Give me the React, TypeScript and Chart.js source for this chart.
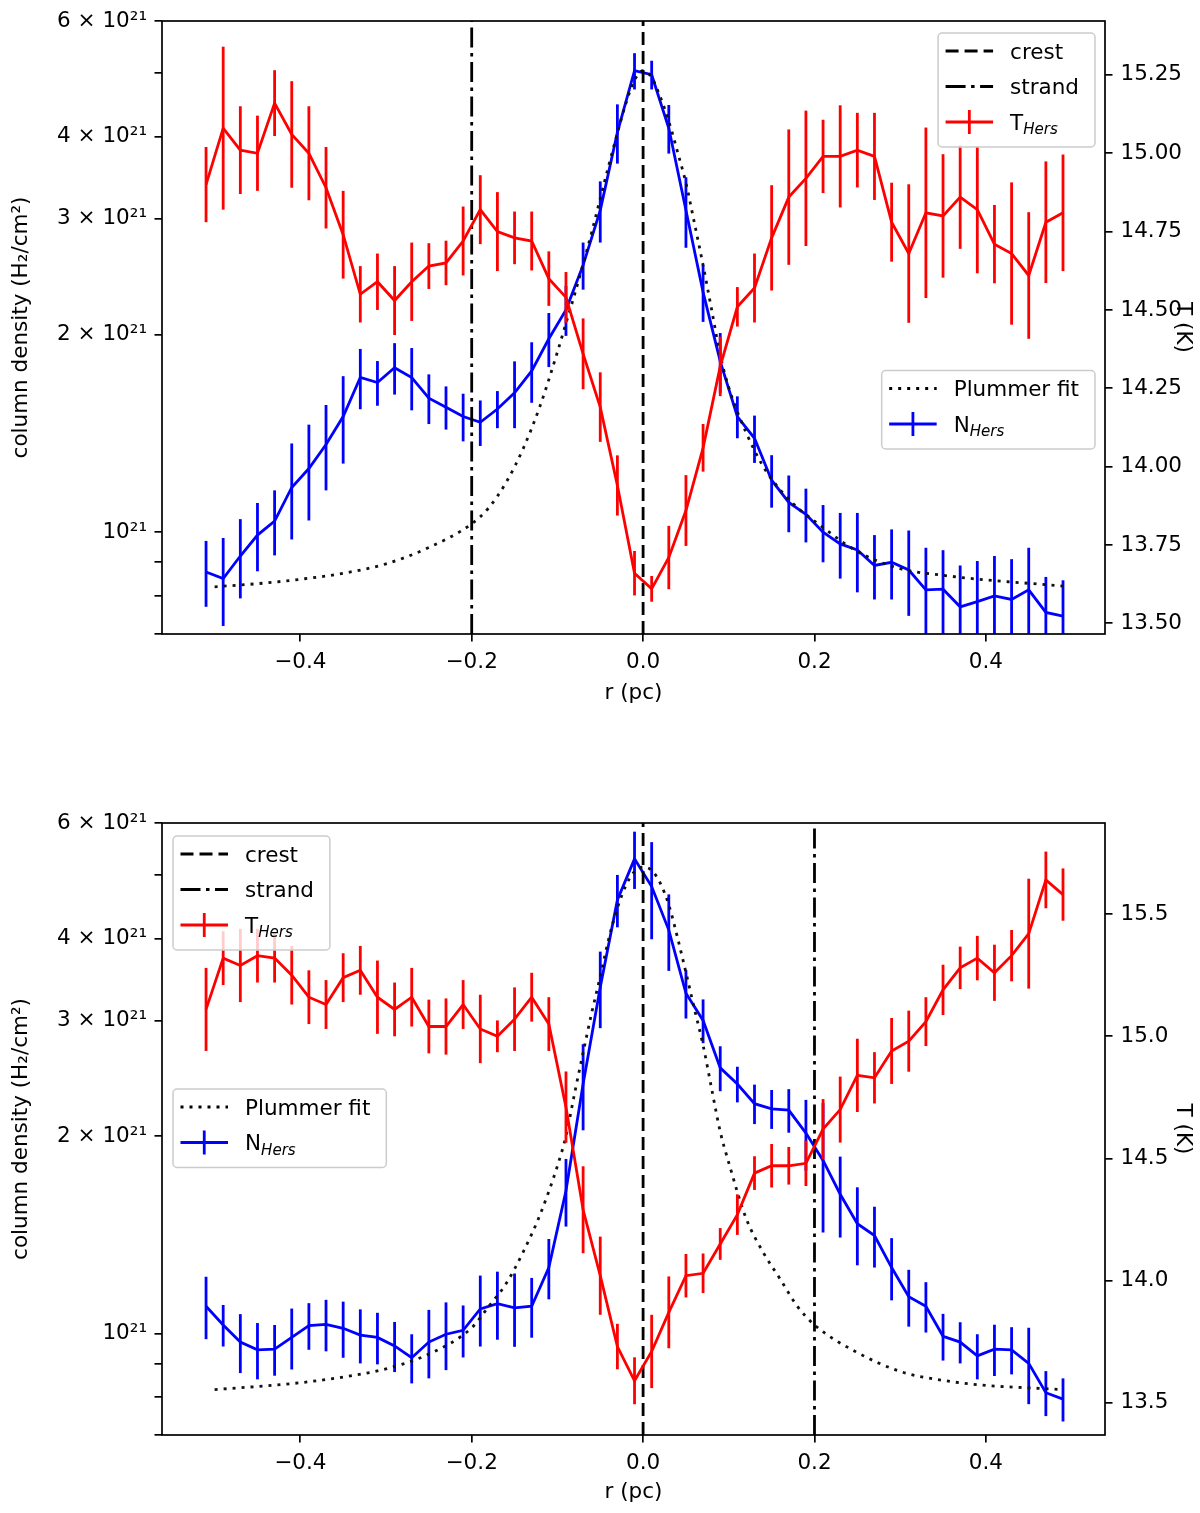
import { useEffect, useRef } from "react";
import { Chart, registerables } from "chart.js";

Chart.register(...registerables);

const FONT_FAMILY = "'DejaVu Sans', 'Liberation Sans', sans-serif";
const FONT_SIZE = 21.5;
const RED = "#ff0000";
const BLUE = "#0000ff";
const LINE_W = 2.8;

// radial offset of every profile sample (pc)
const R = [
  -0.51, -0.49, -0.47, -0.45, -0.43, -0.41, -0.39, -0.37, -0.35, -0.33, -0.31, -0.29, -0.27,
  -0.25, -0.23, -0.21, -0.19, -0.17, -0.15, -0.13, -0.11, -0.09, -0.07, -0.05, -0.03, -0.01,
  0.01, 0.03, 0.05, 0.07, 0.09, 0.11, 0.13, 0.15, 0.17, 0.19, 0.21, 0.23, 0.25, 0.27, 0.29,
  0.31, 0.33, 0.35, 0.37, 0.39, 0.41, 0.43, 0.45, 0.47, 0.49,
];

// ---- upper profile ----
// dust temperature (K)
const T_TOP = [
  14.9, 15.08, 15.01, 15.0, 15.16, 15.06, 15.0, 14.89, 14.74, 14.55, 14.59, 14.53, 14.59,
  14.64, 14.65, 14.72, 14.82, 14.75, 14.73, 14.72, 14.6, 14.54, 14.36, 14.19, 13.94, 13.66,
  13.61, 13.71, 13.86, 14.06, 14.32, 14.51, 14.57, 14.73, 14.86, 14.92, 14.99, 14.99, 15.01,
  14.99, 14.78, 14.68, 14.81, 14.8, 14.86, 14.82, 14.71, 14.68, 14.61, 14.78, 14.81,
];
const T_TOP_ERR = [
  0.12, 0.26, 0.14, 0.12, 0.105, 0.17, 0.15, 0.13, 0.14, 0.09, 0.09, 0.11, 0.125, 0.073,
  0.071, 0.11, 0.11, 0.126, 0.084, 0.094, 0.087, 0.081, 0.113, 0.111, 0.096, 0.071,
  0.041, 0.101, 0.113, 0.076, 0.095, 0.063, 0.11, 0.168, 0.216, 0.216, 0.117, 0.163, 0.119,
  0.139, 0.126, 0.221, 0.272, 0.197, 0.165, 0.203, 0.125, 0.227, 0.202, 0.194, 0.186,
];
// column density, units of 1e21 H2/cm2
const N_TOP = [
  0.87, 0.85, 0.92, 0.99, 1.04, 1.17, 1.25, 1.36, 1.5, 1.72, 1.69, 1.78, 1.72, 1.6, 1.55,
  1.5, 1.47, 1.54, 1.63, 1.76, 1.97, 2.18, 2.55, 3.09, 4.06, 5.04,
  4.97, 4.12, 3.09, 2.32, 1.82, 1.5, 1.39, 1.2, 1.11, 1.065, 1.0, 0.96, 0.94, 0.89, 0.9,
  0.876, 0.817, 0.819, 0.77, 0.784, 0.8, 0.79, 0.817, 0.755, 0.745,
];
const N_TOP_ERR = [
  0.1, 0.13, 0.127, 0.118, 0.118, 0.195, 0.208, 0.202, 0.228, 0.181, 0.132, 0.16, 0.187,
  0.139, 0.117, 0.125, 0.117, 0.1, 0.19, 0.186, 0.186, 0.19, 0.21, 0.33, 0.42, 0.32,
  0.25, 0.35, 0.38, 0.23, 0.19, 0.11, 0.115, 0.11, 0.11, 0.1, 0.1, 0.11, 0.13, 0.1, 0.11,
  0.13, 0.13, 0.12, 0.12, 0.12, 0.12, 0.12, 0.13, 0.1, 0.1,
];
const FIT_R_TOP = [
  -0.5, -0.45, -0.4, -0.35, -0.3, -0.25, -0.2, -0.18, -0.16, -0.14, -0.12, -0.1, -0.09, -0.08,
  -0.07, -0.06, -0.05, -0.04, -0.03, -0.02, -0.01, 0.0, 0.01, 0.02, 0.03, 0.04, 0.05, 0.06,
  0.07, 0.08, 0.09, 0.1, 0.12, 0.14, 0.16, 0.18, 0.2, 0.25, 0.3, 0.35, 0.4, 0.45, 0.49,
];
const FIT_N_TOP = [
  0.826, 0.835, 0.848, 0.866, 0.895, 0.948, 1.03, 1.09, 1.19, 1.34, 1.56, 1.88, 2.08, 2.3,
  2.56, 2.86, 3.22, 3.62, 4.05, 4.5, 4.88, 5.04, 4.92, 4.6, 4.22, 3.8, 3.4, 2.95,
  2.55, 2.18, 1.86, 1.66, 1.42, 1.26, 1.16, 1.09, 1.04, 0.935, 0.88, 0.86, 0.846, 0.836, 0.828,
];

// ---- lower profile ----
const T_BOT = [
  15.11, 15.32, 15.29, 15.33, 15.32, 15.25, 15.16, 15.13, 15.24, 15.27, 15.16, 15.11, 15.16,
  15.04, 15.04, 15.13, 15.03, 15.0, 15.07, 15.16, 15.05, 14.71, 14.29, 14.02, 13.73, 13.59,
  13.71, 13.87, 14.02, 14.03, 14.15, 14.27, 14.44, 14.47, 14.47, 14.48, 14.62, 14.7, 14.84,
  14.83, 14.94, 14.98, 15.06, 15.19, 15.28, 15.32, 15.26, 15.33, 15.42, 15.64, 15.58,
];
const T_BOT_ERR = [
  0.17, 0.11, 0.15, 0.11, 0.1, 0.12, 0.11, 0.1, 0.1, 0.1, 0.15, 0.11, 0.12, 0.11, 0.115,
  0.1, 0.14, 0.065, 0.13, 0.1, 0.11, 0.146, 0.178, 0.16, 0.093, 0.096,
  0.15, 0.147, 0.089, 0.081, 0.065, 0.083, 0.069, 0.089, 0.077, 0.093, 0.123, 0.135, 0.15,
  0.105, 0.135, 0.125, 0.1, 0.103, 0.087, 0.091, 0.115, 0.105, 0.225, 0.116, 0.107,
];
const N_BOT = [
  1.1, 1.03, 0.97, 0.944, 0.946, 0.986, 1.028, 1.032, 1.018, 0.994, 0.986, 0.957, 0.918,
  0.97, 0.997, 1.011, 1.09, 1.11, 1.094, 1.1, 1.26, 1.65, 2.4, 3.37, 4.58, 5.29,
  4.8, 4.12, 3.3, 3.0, 2.54, 2.4, 2.24, 2.2, 2.19, 2.02, 1.835, 1.63, 1.47, 1.41, 1.26,
  1.137, 1.1, 0.99, 0.97, 0.924, 0.946, 0.944, 0.9, 0.812, 0.794,
];
const N_BOT_ERR = [
  0.12, 0.075, 0.1, 0.093, 0.084, 0.105, 0.084, 0.093, 0.1, 0.094, 0.089, 0.084, 0.079,
  0.116, 0.118, 0.092, 0.135, 0.132, 0.14, 0.115, 0.133, 0.195, 0.36, 0.45, 0.42, 0.53,
  0.81, 0.55, 0.28, 0.23, 0.2, 0.15, 0.155, 0.15, 0.167, 0.25, 0.41, 0.23, 0.2, 0.15, 0.137,
  0.113, 0.097, 0.081, 0.07, 0.073, 0.085, 0.078, 0.12, 0.064, 0.06,
];
const FIT_R_BOT = FIT_R_TOP;
const FIT_N_BOT = [
  0.821, 0.83, 0.841, 0.858, 0.883, 0.93, 1.02, 1.1, 1.19, 1.33, 1.52, 1.8, 2.0, 2.32,
  2.68, 3.08, 3.5, 4.0, 4.45, 4.82, 5.06, 5.14, 5.08, 4.86, 4.5, 4.02, 3.55, 3.12,
  2.75, 2.36, 2.03, 1.82, 1.5, 1.33, 1.21, 1.1, 1.03, 0.935, 0.875, 0.848, 0.833, 0.826, 0.821,
];

const CREST_R = 0.0;
const STRAND_R_TOP = -0.2;
const STRAND_R_BOT = 0.2;

const X_MIN = -0.5614;
const X_MAX = 0.539;
const X_TICKS = [-0.4, -0.2, 0.0, 0.2, 0.4];
const N_MIN = 0.7;
const N_MAX = 6.0;
const N_TICKS = [0.7, 0.8, 0.9, 1, 2, 3, 4, 5, 6];
const T_TICKS_TOP = [13.5, 13.75, 14.0, 14.25, 14.5, 14.75, 15.0, 15.25];
const T_TICKS_BOT = [13.5, 14.0, 14.5, 15.0, 15.5];

const DASH_CREST = [13, 6];
const DASH_STRAND = [20, 5.5, 3.5, 5.5];
const DASH_FIT = [3, 6];

const PANELS = [
  {
    key: "top",
    canvasTop: 0,
    height: 720,
    padTop: 21,
    xAxisHeight: 86,
    xTitlePad: 14,
    t: T_TOP, tErr: T_TOP_ERR, n: N_TOP, nErr: N_TOP_ERR, fitR: FIT_R_TOP, fitN: FIT_N_TOP,
    strand: STRAND_R_TOP,
    tMin: 13.466, tMax: 15.422, tTicks: T_TICKS_TOP, tDigits: 2,
    legends: [
      { corner: "right", dx: 10, dy: 12, group: "lines" },
      { corner: "right", dx: 10, dy: 349.5, group: "density" },
    ],
  },
  {
    key: "bottom",
    canvasTop: 720,
    height: 793,
    padTop: 103,
    xAxisHeight: 78,
    xTitlePad: 8,
    t: T_BOT, tErr: T_BOT_ERR, n: N_BOT, nErr: N_BOT_ERR, fitR: FIT_R_BOT, fitN: FIT_N_BOT,
    strand: STRAND_R_BOT,
    tMin: 13.368, tMax: 15.873, tTicks: T_TICKS_BOT, tDigits: 1,
    legends: [
      { corner: "left", dx: 11, dy: 13, group: "lines" },
      { corner: "left", dx: 11, dy: 266, group: "density" },
    ],
  },
];

const LEGEND_ITEMS = {
  lines: [
    { text: "crest", color: "#000", dash: DASH_CREST },
    { text: "strand", color: "#000", dash: DASH_STRAND },
    { text: "T", sub: "Hers", color: RED, errorBar: true },
  ],
  density: [
    { text: "Plummer fit", color: "#000", dash: DASH_FIT },
    { text: "N", sub: "Hers", color: BLUE, errorBar: true },
  ],
};

const SUP: Record<string, string> = { "1": "\u00b9", "2": "\u00b2" };
const fmtN = (v: number) => {
  const m = Math.round(v * 10);
  const exp = "21".split("").map((c) => SUP[c]).join("");
  if (m === 10) return `10${exp}`;
  if (m === 20 || m === 30 || m === 40 || m === 60) return `${m / 10} \u00d7 10${exp}`;
  return "";
};
const fmtX = (v: number) => (Math.abs(v) < 1e-9 ? "0.0" : v.toFixed(1).replace("-", "\u2212"));

function drawLegend(ctx: CanvasRenderingContext2D, area: any, lg: any) {
  const items = (LEGEND_ITEMS as any)[lg.group];
  const mainFont = `${FONT_SIZE}px ${FONT_FAMILY}`;
  const subFont = `italic ${FONT_SIZE * 0.7}px ${FONT_FAMILY}`;
  ctx.save();
  const widths = items.map((it: any) => {
    ctx.font = mainFont;
    let w = ctx.measureText(it.text).width;
    if (it.sub) {
      ctx.font = subFont;
      w += ctx.measureText(it.sub).width;
    }
    return w;
  });
  const w = 72 + Math.max(...widths) + 16;
  const h = 18 + (items.length - 1) * 35.5 + 25;
  const left = lg.corner === "right" ? area.right - lg.dx - w : area.left + lg.dx;
  const top = area.top + lg.dy;

  ctx.beginPath();
  if ((ctx as any).roundRect) (ctx as any).roundRect(left, top, w, h, 4);
  else ctx.rect(left, top, w, h);
  ctx.fillStyle = "rgba(255,255,255,0.8)";
  ctx.fill();
  ctx.strokeStyle = "#cccccc";
  ctx.lineWidth = 1.5;
  ctx.stroke();

  items.forEach((it: any, i: number) => {
    const y = top + 18 + i * 35.5;
    const hx0 = left + 7.5;
    const hx1 = left + 55;
    ctx.strokeStyle = it.color;
    ctx.lineWidth = LINE_W;
    ctx.lineCap = "butt";
    ctx.setLineDash(it.dash || []);
    ctx.beginPath();
    ctx.moveTo(hx0, y);
    ctx.lineTo(hx1, y);
    ctx.stroke();
    ctx.setLineDash([]);
    if (it.errorBar) {
      const cx = (hx0 + hx1) / 2;
      ctx.beginPath();
      ctx.moveTo(cx, y - 12);
      ctx.lineTo(cx, y + 12);
      ctx.stroke();
    }
    const base = y + FONT_SIZE * 0.36;
    ctx.fillStyle = "#000";
    ctx.textAlign = "left";
    ctx.textBaseline = "alphabetic";
    ctx.font = mainFont;
    ctx.fillText(it.text, left + 72, base);
    if (it.sub) {
      const tw = ctx.measureText(it.text).width;
      ctx.font = subFont;
      ctx.fillText(it.sub, left + 72 + tw, base + FONT_SIZE * 0.2);
    }
  });
  ctx.restore();
}

// vertical error bars, drawn just before their own line
const errorBarPlugin = {
  id: "errorBars",
  beforeDatasetDraw(chart: any, args: any) {
    const ds = chart.data.datasets[args.index];
    if (!ds.errors) return;
    const { ctx, chartArea } = chart;
    const xs = chart.scales.x;
    const ys = chart.scales[ds.yAxisID];
    ctx.save();
    ctx.beginPath();
    ctx.rect(chartArea.left, chartArea.top, chartArea.right - chartArea.left, chartArea.bottom - chartArea.top);
    ctx.clip();
    ctx.strokeStyle = ds.borderColor;
    ctx.lineWidth = ds.borderWidth;
    ctx.lineCap = "butt";
    ds.data.forEach((p: any, i: number) => {
      const e = ds.errors[i];
      const px = xs.getPixelForValue(p.x);
      const lo = Math.max(p.y - e, 1e-3);
      ctx.beginPath();
      ctx.moveTo(px, ys.getPixelForValue(p.y + e));
      ctx.lineTo(px, ys.getPixelForValue(lo));
      ctx.stroke();
    });
    ctx.restore();
  },
};

function framePlugin(panel: any) {
  return {
    id: "frameAndLegends",
    afterDatasetsDraw(chart: any) {
      const { ctx, chartArea } = chart;
      ctx.save();
      ctx.strokeStyle = "#000";
      ctx.lineWidth = 1.7;
      ctx.strokeRect(chartArea.left, chartArea.top, chartArea.right - chartArea.left, chartArea.bottom - chartArea.top);
      ctx.restore();
      panel.legends.forEach((lg: any) => drawLegend(ctx, chartArea, lg));
    },
  };
}

function buildConfig(panel: any): any {
  const tickFont = { family: FONT_FAMILY, size: FONT_SIZE };
  const grid = { drawOnChartArea: false, drawTicks: true, tickLength: 7.5, color: "#000", lineWidth: 1.7 };
  const vline = (x: number, dash: number[]) => ({
    data: [
      { x, y: panel.tMin },
      { x, y: panel.tMax },
    ],
    yAxisID: "y2",
    borderColor: "#000",
    borderWidth: LINE_W,
    borderDash: dash,
    pointRadius: 0,
    order: 2,
  });
  return {
    type: "line",
    data: {
      datasets: [
        {
          label: "T_Hers",
          data: R.map((x, i) => ({ x, y: panel.t[i] })),
          errors: panel.tErr,
          yAxisID: "y2",
          borderColor: RED,
          borderWidth: LINE_W,
          pointRadius: 0,
          order: 1,
        },
        { label: "crest", ...vline(CREST_R, DASH_CREST) },
        { label: "strand", ...vline(panel.strand, DASH_STRAND) },
        {
          label: "Plummer fit",
          data: panel.fitR.map((x: number, i: number) => ({ x, y: panel.fitN[i] })),
          yAxisID: "y",
          borderColor: "#111",
          borderWidth: LINE_W,
          borderDash: DASH_FIT,
          cubicInterpolationMode: "monotone",
          pointRadius: 0,
          order: 3,
        },
        {
          label: "N_Hers",
          data: R.map((x, i) => ({ x, y: panel.n[i] })),
          errors: panel.nErr,
          yAxisID: "y",
          borderColor: BLUE,
          borderWidth: LINE_W,
          pointRadius: 0,
          order: 4,
        },
      ],
    },
    options: {
      responsive: false,
      animation: false,
      events: [],
      layout: { padding: { top: panel.padTop, left: 0, right: 0, bottom: 0 } },
      plugins: { legend: { display: false }, tooltip: { enabled: false } },
      scales: {
        x: {
          type: "linear",
          min: X_MIN,
          max: X_MAX,
          afterBuildTicks: (s: any) => {
            s.ticks = X_TICKS.map((value) => ({ value }));
          },
          afterFit: (s: any) => {
            s.height = panel.xAxisHeight;
          },
          ticks: { callback: (v: number) => fmtX(v), color: "#000", font: tickFont, padding: 8.5, maxRotation: 0, autoSkip: false },
          grid,
          border: { display: false },
          title: { display: true, text: "r (pc)", color: "#000", font: tickFont, padding: { top: 0, bottom: panel.xTitlePad } },
        },
        y: {
          type: "logarithmic",
          position: "left",
          min: N_MIN,
          max: N_MAX,
          afterBuildTicks: (s: any) => {
            s.ticks = N_TICKS.map((value) => ({ value }));
          },
          afterFit: (s: any) => {
            s.width = 162;
          },
          ticks: { callback: (v: number) => fmtN(v), color: "#000", font: tickFont, padding: 7.5, autoSkip: false },
          grid,
          border: { display: false },
          title: {
            display: true,
            text: "column density (H\u2082/cm\u00b2)",
            color: "#000",
            font: tickFont,
            padding: { top: 9, bottom: 0 },
          },
        },
        y2: {
          type: "linear",
          position: "right",
          min: panel.tMin,
          max: panel.tMax,
          afterBuildTicks: (s: any) => {
            s.ticks = panel.tTicks.map((value: number) => ({ value }));
          },
          afterFit: (s: any) => {
            s.width = 95;
          },
          ticks: { callback: (v: number) => v.toFixed(panel.tDigits), color: "#000", font: tickFont, padding: 8, autoSkip: false },
          grid,
          border: { display: false },
          title: { display: true, text: "T (K)", color: "#000", font: tickFont, padding: { top: 5, bottom: 0 } },
        },
      },
    },
    plugins: [errorBarPlugin, framePlugin(panel)],
  };
}

function ProfilePanel({ panel }: { panel: any }) {
  const chartRef = useRef<Chart | null>(null);
  const canvasRef = useRef<HTMLCanvasElement | null>(null);

  useEffect(() => {
    if (chartRef.current) {
      chartRef.current.destroy();
    }
    const ctx = canvasRef.current?.getContext("2d");
    if (ctx) {
      chartRef.current = new Chart(ctx, buildConfig(panel));
    }
    return () => {
      if (chartRef.current) {
        chartRef.current.destroy();
        chartRef.current = null;
      }
    };
  }, [panel]);

  return (
    <canvas
      ref={canvasRef}
      width={1200}
      height={panel.height}
      style={{ position: "absolute", left: 0, top: panel.canvasTop, width: 1200, height: panel.height }}
    />
  );
}

export default function App() {
  return (
    <div style={{ position: "absolute", left: 0, top: 0, width: 1200, height: 1513, background: "#fff" }}>
      {PANELS.map((p) => (
        <ProfilePanel key={p.key} panel={p} />
      ))}
    </div>
  );
}
